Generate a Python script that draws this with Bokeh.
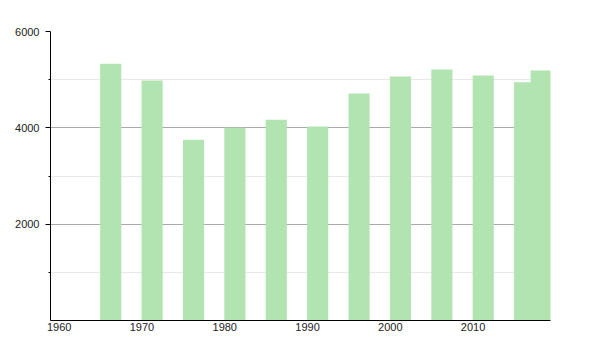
from bokeh.plotting import figure
from bokeh.models import FixedTicker, Range1d, ColumnDataSource
from bokeh.embed import file_html
from bokeh.resources import INLINE

years = [1966, 1971, 1976, 1981, 1986, 1991, 1996, 2001, 2006, 2011, 2016, 2018]
population = [5329, 4982, 3751, 4000, 4166, 4027, 4712, 5065, 5211, 5086, 4948, 5190]
x_ticks = [1960, 1970, 1980, 1990, 2000, 2010]
y_ticks = [2000, 4000, 6000]
y_minor = [1000, 3000, 5000]

bar_w = 2.55
src = ColumnDataSource(dict(left=years, right=[y + bar_w for y in years], top=population))

p = figure(width=600, height=350, output_backend="svg", toolbar_location=None,
           x_range=Range1d(1960, 2020.4), y_range=Range1d(0, 6000),
           min_border_left=50, min_border_right=50, min_border_top=31, min_border_bottom=30)
p.outline_line_color = None
p.background_fill_color = "white"

p.quad(left="left", right="right", bottom=0, top="top", source=src,
       fill_color="#b1e4b1", line_color=None)

p.yaxis.ticker = FixedTicker(ticks=y_ticks, minor_ticks=y_minor)

# x labels are drawn starting at their year (left aligned): shift the invisible ticks
label_shift = 1.05
shifted = [t + label_shift for t in x_ticks]
p.xaxis.ticker = FixedTicker(ticks=shifted)
p.xaxis.major_label_overrides = {s: str(t) for s, t in zip(shifted, x_ticks)}

p.ygrid.grid_line_color = "#aaaaaa"
p.ygrid.minor_grid_line_color = "#e8e8e8"
p.xgrid.grid_line_color = None

for ax in (p.xaxis, p.yaxis):
    ax.axis_line_color = "black"
    ax.axis_line_width = 1
    ax.major_label_text_font = "Liberation Sans"
    ax.major_label_text_font_size = "11px"
    ax.major_label_text_color = "#222222"

p.yaxis.major_tick_out = 5
p.yaxis.major_tick_in = 0
p.yaxis.minor_tick_out = 2
p.yaxis.minor_tick_in = 0
p.yaxis.major_tick_line_color = "black"
p.yaxis.minor_tick_line_color = "black"
p.yaxis.major_label_standoff = 6

p.xaxis.major_tick_out = 0
p.xaxis.major_tick_in = 0
p.xaxis.major_tick_line_color = None
p.xaxis.minor_tick_line_color = None
p.xaxis.major_label_standoff = 2

open("out.html", "w").write(file_html(p, INLINE))
